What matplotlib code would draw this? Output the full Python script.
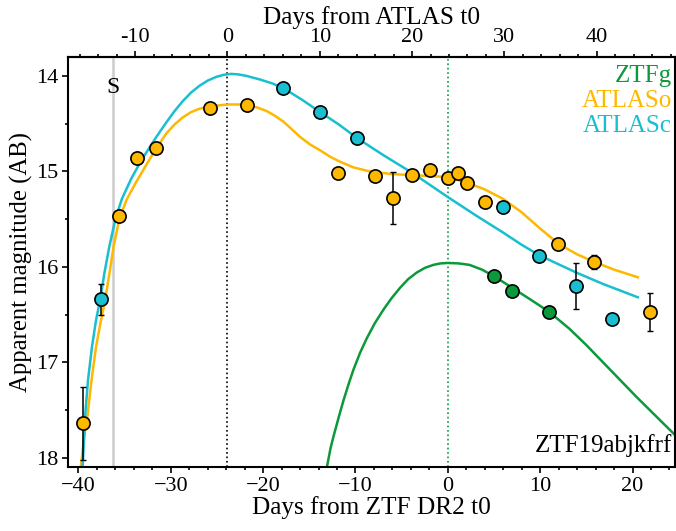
import matplotlib.pyplot as plt
from matplotlib.ticker import MultipleLocator, FixedLocator, FuncFormatter

plt.rcParams['font.family'] = ['Liberation Serif', 'DejaVu Serif']

# ATLAS t0 expressed on the ZTF DR2 time axis
atlas_t0 = -23.87
shock_day = -36.3

# photometry: ATLAS orange
o_t = [-39.5, -35.58, -33.7, -31.6, -25.72, -21.78, -11.85, -7.84, -5.89, -3.87,
       -1.88, 0.03, 1.08, 2.09, 4.04, 11.98, 15.88, 21.84]
o_mag = [17.64, 15.47, 14.86, 14.76, 14.34, 14.31, 15.02, 15.05, 15.28, 15.04,
         14.99, 15.07, 15.02, 15.12, 15.32, 15.76, 15.95, 16.47]
o_err = [0.38, 0.02, 0.02, 0.02, 0.05, 0.02, 0.02, 0.02, 0.27, 0.02,
         0.02, 0.02, 0.02, 0.02, 0.02, 0.03, 0.07, 0.20]

# photometry: ATLAS cyan
c_t = [-37.6, -17.81, -13.84, -9.86, 5.96, 9.92, 13.9, 17.8]
c_mag = [16.34, 14.13, 14.38, 14.65, 15.37, 15.89, 16.20, 16.55]
c_err = [0.16, 0.02, 0.02, 0.02, 0.02, 0.02, 0.24, 0.02]

# photometry: ZTF g
g_t = [5.02, 6.97, 10.94]
g_mag = [16.10, 16.25, 16.47]
g_err = [0.01, 0.01, 0.01]

# model light curves
o_fit_t = [-39.75, -39.4, -39.0, -38.6, -38.1, -37.6, -37.1, -36.6, -36.2, -35.58,
           -34.8, -33.8, -32.7, -31.68, -30.5, -29.6, -28.7, -27.8, -26.9, -26.0,
           -25.2, -24.4, -23.66, -22.7, -21.85, -20.7, -19.6, -18.7, -17.8, -16.9,
           -16.0, -14.9, -13.84, -12.7, -11.67, -10.2, -8.5, -6.0, -3.8, -2.0,
           0.0, 2.09, 4.0, 6.0, 8.0, 10.0, 12.0, 14.0, 15.9, 18.0, 20.58]
o_fit_mag = [18.1, 17.8, 17.54, 17.2, 16.84, 16.58, 16.34, 16.04, 15.79, 15.50,
             15.30, 15.12, 14.94, 14.775, 14.605, 14.51, 14.435, 14.38, 14.345, 14.325,
             14.315, 14.305, 14.30, 14.30, 14.31, 14.33, 14.37, 14.42, 14.48, 14.56,
             14.64, 14.72, 14.78, 14.85, 14.90, 14.96, 15.0, 15.03, 15.04, 15.05,
             15.06, 15.12, 15.19, 15.29, 15.43, 15.60, 15.76, 15.87, 15.95, 16.03, 16.11]

c_fit_t = [-39.55, -39.26, -38.97, -38.54, -38.1, -37.6, -37.2, -36.66, -36.0, -35.3,
           -34.3, -33.5, -32.7, -31.6, -30.5, -29.6, -28.7, -27.8, -26.9, -26.0,
           -25.1, -24.3, -23.5, -22.7, -21.85, -20.3, -19.0, -17.8, -15.8, -13.84,
           -11.8, -9.86, -7.0, -3.8, 0.0, 3.0, 5.96, 8.0, 9.92, 11.9,
           13.9, 16.8, 18.7, 20.58]
c_fit_mag = [18.1, 17.54, 17.19, 16.84, 16.56, 16.32, 16.07, 15.79, 15.50, 15.29,
             15.08, 14.94, 14.81, 14.645, 14.49, 14.37, 14.265, 14.175, 14.105, 14.05,
             14.012, 13.99, 13.98, 13.985, 14.0, 14.04, 14.08, 14.13, 14.25, 14.38,
             14.51, 14.65, 14.83, 15.02, 15.27, 15.46, 15.64, 15.77, 15.88, 15.97,
             16.06, 16.18, 16.25, 16.32]

g_fit_t = [-13.1, -12.7, -12.39, -11.8, -11.3, -10.75, -10.23, -9.5, -8.78, -7.9,
           -6.98, -6.1, -5.17, -4.3, -3.36, -2.45, -1.56, -0.8, 0.0, 1.2,
           2.34, 3.7, 5.02, 6.97, 8.9, 10.94, 13.18, 15.0, 16.8, 20.4, 25.0]
g_fit_mag = [18.1, 17.9, 17.78, 17.57, 17.40, 17.23, 17.08, 16.90, 16.75, 16.59,
             16.45, 16.33, 16.22, 16.13, 16.06, 16.01, 15.98, 15.965, 15.96, 15.965,
             15.98, 16.03, 16.10, 16.22, 16.34, 16.47, 16.65, 16.82, 17.0, 17.36, 17.80]

col_g = '#0a9a3c'
col_o = '#ffb800'
col_c = '#19bfd0'

fig = plt.figure(figsize=(6.76, 5.31), dpi=100)
ax = fig.add_axes([0.1001, 0.120, 0.8984, 0.7732])

ax.axvline(shock_day, color='#cccccc', lw=1.8, zorder=1)
ax.axvline(atlas_t0, color='black', lw=1.2, ls=':', zorder=1)
ax.axvline(0, color=col_g, lw=1.2, ls=':', zorder=1)

ax.plot(g_fit_t, g_fit_mag, color=col_g, lw=1.8, zorder=2)
ax.plot(o_fit_t, o_fit_mag, color=col_o, lw=1.8, zorder=2)
ax.plot(c_fit_t, c_fit_mag, color=col_c, lw=1.8, zorder=2)

for t, m, e, col in [(o_t, o_mag, o_err, col_o), (c_t, c_mag, c_err, col_c),
                     (g_t, g_mag, g_err, col_g)]:
    ax.errorbar(t, m, yerr=e, fmt='none', ecolor='black', elinewidth=1.1,
                capsize=2.5, capthick=1.0, zorder=3)
    ax.plot(t, m, 'o', ms=9.5, mfc=col, mec='black', mew=1.2, ls='none', zorder=4)

ax.set_xlim(-41.17, 24.6)
ax.set_ylim(18.1, 13.8)

ax.xaxis.set_major_locator(MultipleLocator(10))
ax.xaxis.set_minor_locator(MultipleLocator(2))
ax.yaxis.set_major_locator(MultipleLocator(1))
ax.yaxis.set_minor_locator(MultipleLocator(0.5))
ax.tick_params(which='both', direction='out', labelsize=16, width=1.2, pad=2.5)
ax.tick_params(which='major', length=4.2)
ax.tick_params(which='minor', length=2.3)
for s in ax.spines.values():
    s.set_linewidth(1.5)

ax.set_xlabel('Days from ZTF DR2 t0', fontsize=18.2, labelpad=0)
ax.set_ylabel('Apparent magnitude (AB)', fontsize=17.8, labelpad=2)

top = ax.secondary_xaxis('top', functions=(lambda x: x - atlas_t0,
                                           lambda x: x + atlas_t0))
top.xaxis.set_major_locator(FixedLocator([-10, 0, 10, 20, 30, 40]))
top.xaxis.set_minor_locator(FixedLocator(list(range(-16, 49, 2))))
top.xaxis.set_major_formatter(FuncFormatter(lambda v, p: '%d' % round(v)))
top.tick_params(which='both', direction='out', labelsize=16, width=1.2, pad=3)
top.tick_params(which='major', length=4)
top.tick_params(which='minor', length=2)
top.spines['top'].set_linewidth(1.5)
top.set_xlabel('Days from ATLAS t0', fontsize=18.2, labelpad=3)

ax.text(shock_day, 14.18, 'S', ha='center', va='baseline', fontsize=17)
ax.text(0.995, 0.939, 'ZTFg', color=col_g, ha='right', va='baseline',
        fontsize=18, transform=ax.transAxes)
ax.text(0.995, 0.878, 'ATLASo', color=col_o, ha='right', va='baseline',
        fontsize=18, transform=ax.transAxes)
ax.text(0.995, 0.817, 'ATLASc', color=col_c, ha='right', va='baseline',
        fontsize=18, transform=ax.transAxes)
ax.text(0.995, 0.038, 'ZTF19abjkfrf', ha='right', va='baseline',
        fontsize=18, transform=ax.transAxes)

fig.savefig('out.png', dpi=100)
